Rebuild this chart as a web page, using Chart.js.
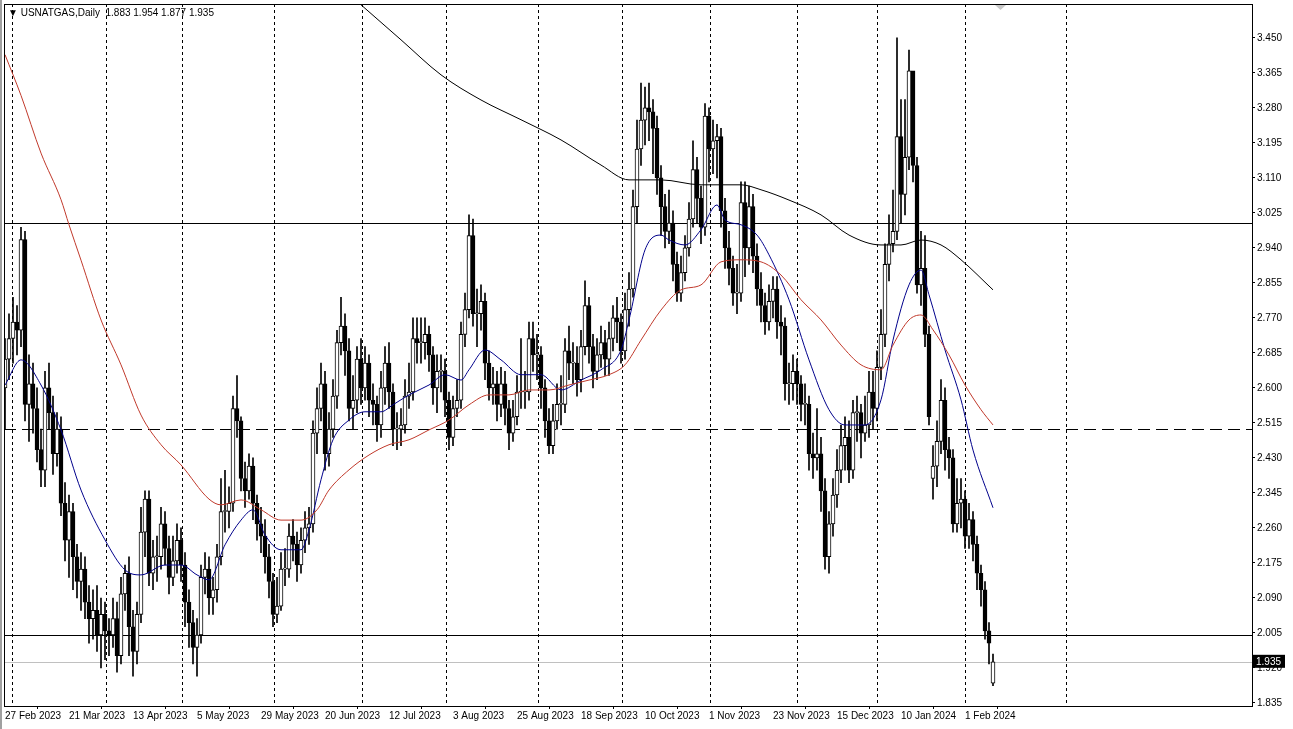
<!DOCTYPE html>
<html>
<head>
<meta charset="utf-8">
<script src="https://cdn.jsdelivr.net/npm/chart.js@4.4.1/dist/chart.umd.min.js"></script>
<style>
  html, body { margin: 0; padding: 0; background: #fff; }
  #wrap { width: 1293px; height: 729px; }
</style>
</head>
<body>
<div id="wrap"><canvas id="chart" width="1293" height="729"></canvas></div>
<script>
// Daily candles, 27 Feb 2023 .. 8 Feb 2024 (open = previous close unless listed in gapOpens)
const firstOpen = 2.60;
const gapOpens = { 232: 2.38, 247: 1.883 };

const closes = [
  2.67,2.72,2.76,2.74,2.96,2.56,2.61,2.55,2.45,2.40,2.60,2.54,2.44,2.50,2.32,2.23,2.30,2.19,2.13,2.16,2.08,2.04,2.06,2.00,2.05,2.01,2.00,2.04,1.95,2.10,2.15,2.02,1.96,2.05,2.25,2.33,2.15,2.19,2.19,2.27,2.21,2.14,2.18,2.23,2.17,2.08,2.03,1.97,2.00,2.14,2.16,2.09,
  2.11,2.19,2.30,2.30,2.32,2.55,2.52,2.38,2.35,2.41,2.32,2.27,2.24,2.19,2.13,2.05,2.07,2.16,2.16,2.24,2.22,2.17,2.23,2.26,2.27,2.49,2.55,2.61,2.44,2.50,2.58,2.71,2.75,2.69,2.55,2.57,2.67,2.60,2.66,2.57,2.56,2.51,2.60,2.66,2.59,2.50,2.50,2.51,2.58,2.59,
  2.72,2.71,2.71,2.73,2.68,2.60,2.64,2.64,2.57,2.48,2.55,2.57,2.73,2.79,2.97,2.78,2.78,2.81,2.66,2.60,2.61,2.56,2.61,2.55,2.49,2.53,2.59,2.59,2.59,2.72,2.68,2.68,2.60,2.52,2.46,2.52,2.56,2.56,2.69,2.66,2.66,2.62,2.70,2.80,2.70,2.64,2.68,2.71,2.67,2.72,2.77,2.76,2.69,2.79,2.84,
  3.04,3.18,3.25,3.28,3.27,3.23,3.11,3.04,2.98,3.00,2.90,2.83,2.88,2.94,3.01,3.13,3.06,2.99,3.26,3.18,3.20,3.21,3.03,2.94,2.89,2.83,2.83,3.05,2.94,3.04,2.92,2.84,2.80,2.76,2.81,2.84,2.76,2.75,2.61,2.61,2.64,2.61,2.56,2.56,2.44,2.43,2.44,
  2.35,2.19,2.27,2.34,2.40,2.46,2.48,2.40,2.54,2.54,2.49,2.51,2.59,2.55,2.65,2.73,2.90,2.95,2.98,3.21,3.07,3.16,3.37,3.14,2.85,2.89,2.73,2.53,
  2.41,2.47,2.57,2.45,2.43,2.27,2.32,2.33,2.24,2.28,2.22,2.15,2.11,2.01,1.98,1.935
];
const highs = [
  2.72,2.78,2.82,2.80,2.99,2.98,2.68,2.66,2.60,2.50,2.64,2.66,2.58,2.54,2.53,2.37,2.34,2.32,2.22,2.20,2.19,2.12,2.11,2.12,2.09,2.08,2.04,2.09,2.08,2.14,2.17,2.19,2.06,2.08,2.31,2.35,2.35,2.23,2.24,2.31,2.30,2.24,2.24,2.27,2.26,2.20,2.11,2.06,2.04,2.17,2.20,2.19,
  2.14,2.22,2.38,2.40,2.36,2.58,2.63,2.53,2.42,2.44,2.43,2.34,2.31,2.28,2.22,2.15,2.14,2.20,2.21,2.27,2.28,2.25,2.26,2.30,2.31,2.52,2.60,2.66,2.64,2.54,2.62,2.74,2.82,2.78,2.72,2.63,2.70,2.72,2.70,2.68,2.61,2.58,2.64,2.70,2.71,2.61,2.54,2.55,2.62,2.66,
  2.77,2.77,2.77,2.77,2.75,2.70,2.68,2.68,2.67,2.59,2.58,2.62,2.76,2.83,3.02,3.01,2.84,2.85,2.83,2.69,2.65,2.64,2.65,2.64,2.57,2.57,2.63,2.72,2.64,2.76,2.76,2.73,2.70,2.62,2.55,2.56,2.61,2.63,2.72,2.75,2.71,2.70,2.74,2.86,2.82,2.73,2.72,2.75,2.74,2.76,2.80,2.82,2.78,2.83,2.88,
  3.08,3.25,3.34,3.33,3.34,3.30,3.26,3.14,3.07,3.08,3.03,2.93,2.92,2.97,3.05,3.20,3.16,3.09,3.29,3.28,3.25,3.24,3.23,3.06,2.98,2.92,2.90,3.10,3.10,3.09,3.07,2.95,2.88,2.83,2.85,2.87,2.87,2.80,2.77,2.66,2.68,2.67,2.63,2.61,2.58,2.49,2.55,
  2.48,2.38,2.30,2.38,2.45,2.51,2.53,2.52,2.57,2.58,2.56,2.58,2.64,2.64,2.69,2.79,2.95,3.02,3.08,3.45,3.30,3.30,3.42,3.36,3.16,2.98,2.97,2.75,
  2.46,2.52,2.62,2.60,2.48,2.45,2.38,2.38,2.35,2.32,2.30,2.24,2.17,2.13,2.03,1.954
];
const lows = [
  2.50,2.62,2.66,2.68,2.70,2.52,2.47,2.49,2.42,2.36,2.36,2.50,2.39,2.41,2.29,2.18,2.14,2.11,2.09,2.06,2.04,1.98,1.99,1.96,1.92,1.94,1.95,1.97,1.91,1.93,2.06,1.95,1.90,1.93,2.03,2.19,2.12,2.11,2.13,2.16,2.17,2.10,2.12,2.15,2.13,2.02,1.97,1.93,1.90,1.98,2.10,2.05,
  2.05,2.08,2.17,2.25,2.26,2.30,2.48,2.35,2.31,2.33,2.28,2.23,2.20,2.15,2.09,2.02,2.03,2.06,2.12,2.14,2.18,2.13,2.15,2.20,2.22,2.25,2.44,2.52,2.40,2.41,2.48,2.55,2.68,2.63,2.52,2.50,2.54,2.56,2.57,2.53,2.51,2.47,2.48,2.56,2.55,2.46,2.45,2.46,2.49,2.55,
  2.57,2.66,2.66,2.67,2.64,2.56,2.54,2.59,2.53,2.45,2.46,2.53,2.55,2.70,2.77,2.75,2.70,2.74,2.62,2.57,2.56,2.52,2.53,2.51,2.45,2.47,2.51,2.55,2.55,2.57,2.64,2.62,2.55,2.48,2.44,2.44,2.50,2.51,2.54,2.62,2.61,2.58,2.59,2.68,2.66,2.60,2.62,2.65,2.63,2.63,2.69,2.71,2.66,2.67,2.75,
  2.82,3.00,3.14,3.19,3.20,3.12,3.07,2.97,2.94,2.95,2.86,2.81,2.81,2.86,2.92,2.99,3.00,2.95,2.97,3.10,3.12,3.11,2.99,2.89,2.85,2.80,2.78,2.81,2.87,2.90,2.88,2.80,2.76,2.73,2.74,2.77,2.72,2.68,2.57,2.56,2.57,2.56,2.52,2.51,2.40,2.38,2.40,
  2.30,2.16,2.15,2.24,2.31,2.37,2.40,2.37,2.38,2.47,2.43,2.47,2.48,2.50,2.52,2.62,2.70,2.86,2.93,2.96,3.00,3.02,3.13,3.10,2.83,2.80,2.70,2.51,
  2.33,2.36,2.44,2.40,2.38,2.25,2.25,2.26,2.21,2.21,2.18,2.11,2.07,1.99,1.93,1.877
];

// Moving averages: bar index -> value
const blueBars = [0,4,9,14,19,25,30,34,40,44,48,51,55,59,62,65,69,74,76,79,82,86,90,94,97,101,106,110,114,116,120,124,129,134,139,144,149,154,156,160,164,166,170,174,178,180,184,188,191,196,201,206,210,215,219,222,226,229,231,235,239,242,247];
const blueVals = [2.607,2.668,2.607,2.498,2.352,2.231,2.158,2.146,2.170,2.170,2.146,2.134,2.219,2.279,2.304,2.243,2.207,2.207,2.255,2.377,2.474,2.522,2.542,2.542,2.559,2.583,2.607,2.632,2.619,2.644,2.692,2.668,2.632,2.632,2.595,2.619,2.644,2.692,2.765,2.935,2.971,2.959,2.947,2.984,3.044,3.008,2.996,2.971,2.923,2.814,2.668,2.547,2.510,2.510,2.571,2.716,2.850,2.886,2.826,2.692,2.571,2.449,2.309];
const redBars = [0,4,9,14,16,19,24,29,34,39,44,51,54,59,64,69,74,78,81,86,91,96,101,106,111,116,121,126,131,136,141,146,151,155,159,164,169,174,179,184,189,194,199,204,209,214,219,222,226,229,232,236,240,244,247];
const redVals = [3.409,3.310,3.170,3.057,2.996,2.910,2.765,2.656,2.534,2.462,2.413,2.330,2.316,2.328,2.304,2.279,2.279,2.304,2.352,2.401,2.437,2.462,2.474,2.498,2.522,2.559,2.583,2.583,2.595,2.595,2.607,2.619,2.632,2.656,2.716,2.789,2.838,2.850,2.906,2.911,2.906,2.874,2.814,2.765,2.704,2.656,2.644,2.704,2.765,2.777,2.741,2.680,2.607,2.547,2.510];
const blackBars = [89,99,109,119,129,139,149,156,164,174,184,189,196,204,211,219,224,229,234,239,247];
const blackVals = [3.530,3.445,3.360,3.299,3.251,3.202,3.141,3.105,3.105,3.093,3.093,3.081,3.056,3.020,2.971,2.947,2.947,2.959,2.947,2.911,2.838];

// Axis labels
const dateLabels = ['27 Feb 2023','21 Mar 2023','13 Apr 2023','5 May 2023','29 May 2023','20 Jun 2023','12 Jul 2023','3 Aug 2023','25 Aug 2023','18 Sep 2023','10 Oct 2023','1 Nov 2023','23 Nov 2023','15 Dec 2023','10 Jan 2024','1 Feb 2024'];
const dateBars = [0,16,32,48,64,80,96,112,128,144,160,176,192,208,224,240];
const priceTicks = [1.835,1.920,2.005,2.090,2.175,2.260,2.345,2.430,2.515,2.600,2.685,2.770,2.855,2.940,3.025,3.110,3.195,3.280,3.365,3.450];
const gridBars = [1.75,25.25,44.25,67.25,89.25,110.25,133.25,154.25,176.25,198,218,240,265.25];
const levels = [
  { price: 3.0, color: '#000', dash: [] },
  { price: 2.5, color: '#000', dash: [12, 6] },
  { price: 2.0, color: '#000', dash: [] },
  { price: 1.935, color: '#c0c0c0', dash: [] }
];
const header = '\u25BC USNATGAS,Daily  1.883 1.954 1.877 1.935';
const lastPrice = 1.935;

const opens = closes.map((c, i) => gapOpens[i] !== undefined ? gapOpens[i] : (i ? closes[i - 1] : firstOpen));
const wickData = closes.map((c, i) => ({ x: i, y: [lows[i], highs[i]] }));
const bodyData = closes.map((c, i) => ({ x: i, y: [opens[i], c] }));
const pts = (bars, vals) => bars.map((b, i) => ({ x: b, y: vals[i] }));

const FONT = 'Liberation Sans, Arial, sans-serif';

const mtPlugin = {
  id: 'mt',
  beforeDatasetsDraw(chart) {
    const { ctx, chartArea: a, scales: { x, y } } = chart;
    ctx.save();
    ctx.lineWidth = 1;
    ctx.strokeStyle = '#000';
    ctx.setLineDash([3, 3]);
    gridBars.forEach(b => {
      const px = Math.round(x.getPixelForValue(b)) + 0.5;
      ctx.beginPath(); ctx.moveTo(px, a.top); ctx.lineTo(px, a.bottom); ctx.stroke();
    });
    levels.forEach(l => {
      const py = Math.round(y.getPixelForValue(l.price)) + 0.5;
      ctx.strokeStyle = l.color;
      ctx.setLineDash(l.dash);
      ctx.beginPath(); ctx.moveTo(a.left, py); ctx.lineTo(a.right, py); ctx.stroke();
    });
    ctx.restore();
  },
  afterDraw(chart) {
    const { ctx, chartArea: a, scales: { y } } = chart;
    ctx.save();
    ctx.strokeStyle = '#000';
    ctx.lineWidth = 1;
    ctx.strokeRect(a.left + 0.5, a.top + 0.5, a.right - a.left, a.bottom - a.top);
    ctx.fillStyle = '#a0a0a0';
    ctx.fillRect(0, 0, 2, 729);
    // header
    ctx.fillStyle = '#000';
    ctx.font = '10px ' + FONT;
    ctx.textBaseline = 'middle';
    ctx.fillText(header, 8, 13);
    // shift marker
    ctx.fillStyle = '#c8c8c8';
    ctx.beginPath(); ctx.moveTo(995, 5); ctx.lineTo(1006, 5); ctx.lineTo(1000.5, 10); ctx.fill();
    // last price box
    const py = y.getPixelForValue(lastPrice);
    ctx.fillStyle = '#000';
    ctx.fillRect(a.right + 1, py - 7, 32, 13);
    ctx.fillStyle = '#fff';
    ctx.fillText(lastPrice.toFixed(3), a.right + 4, py);
    ctx.restore();
  }
};

new Chart(document.getElementById('chart'), {
  data: {
    datasets: [
      { type: 'line', data: pts(blackBars, blackVals), borderColor: '#000', borderWidth: 1, pointRadius: 0, cubicInterpolationMode: 'monotone' },
      { type: 'line', data: pts(redBars, redVals), borderColor: '#c0392b', borderWidth: 1, pointRadius: 0, cubicInterpolationMode: 'monotone' },
      { type: 'line', data: pts(blueBars, blueVals), borderColor: '#00008b', borderWidth: 1, pointRadius: 0, cubicInterpolationMode: 'monotone' },
      { type: 'bar', data: bodyData, grouped: false, barThickness: 4, minBarLength: 1, borderWidth: 1, borderColor: '#000', borderSkipped: false,
        backgroundColor: c => (closes[c.dataIndex] >= opens[c.dataIndex] ? '#fff' : '#000') },
      { type: 'bar', data: wickData, backgroundColor: '#000', barThickness: 1, grouped: false }
    ]
  },
  options: {
    responsive: false,
    animation: false,
    events: [],
    layout: { padding: { left: 4, top: 4, right: 0, bottom: 0 }, autoPadding: false },
    plugins: { legend: { display: false }, tooltip: { enabled: false } },
    scales: {
      x: {
        type: 'linear', min: -0.25, max: 311.75, offset: false,
        afterFit: s => { s.height = 23; s.paddingLeft = 0; s.paddingRight = 0; },
        afterBuildTicks: s => { s.ticks = dateBars.map(v => ({ value: v })); },
        ticks: { callback: (v, i) => dateLabels[i], autoSkip: false, maxRotation: 0, align: 'start', color: '#000', padding: 1, font: { family: FONT, size: 10 } },
        grid: { drawOnChartArea: false, drawTicks: true, tickLength: 3, color: '#000' },
        border: { display: true, color: '#000' }
      },
      y: {
        type: 'linear', position: 'right', min: 1.8277, max: 3.532,
        afterFit: s => { s.width = 41; s.paddingTop = 0; s.paddingBottom = 0; },
        afterBuildTicks: s => { s.ticks = priceTicks.map(v => ({ value: v })); },
        ticks: { callback: v => v.toFixed(3), color: '#000', padding: 2, font: { family: FONT, size: 10 } },
        grid: { drawOnChartArea: false, drawTicks: true, tickLength: 3, color: '#000' },
        border: { display: true, color: '#000' }
      }
    }
  },
  plugins: [mtPlugin]
});
</script>
</body>
</html>
